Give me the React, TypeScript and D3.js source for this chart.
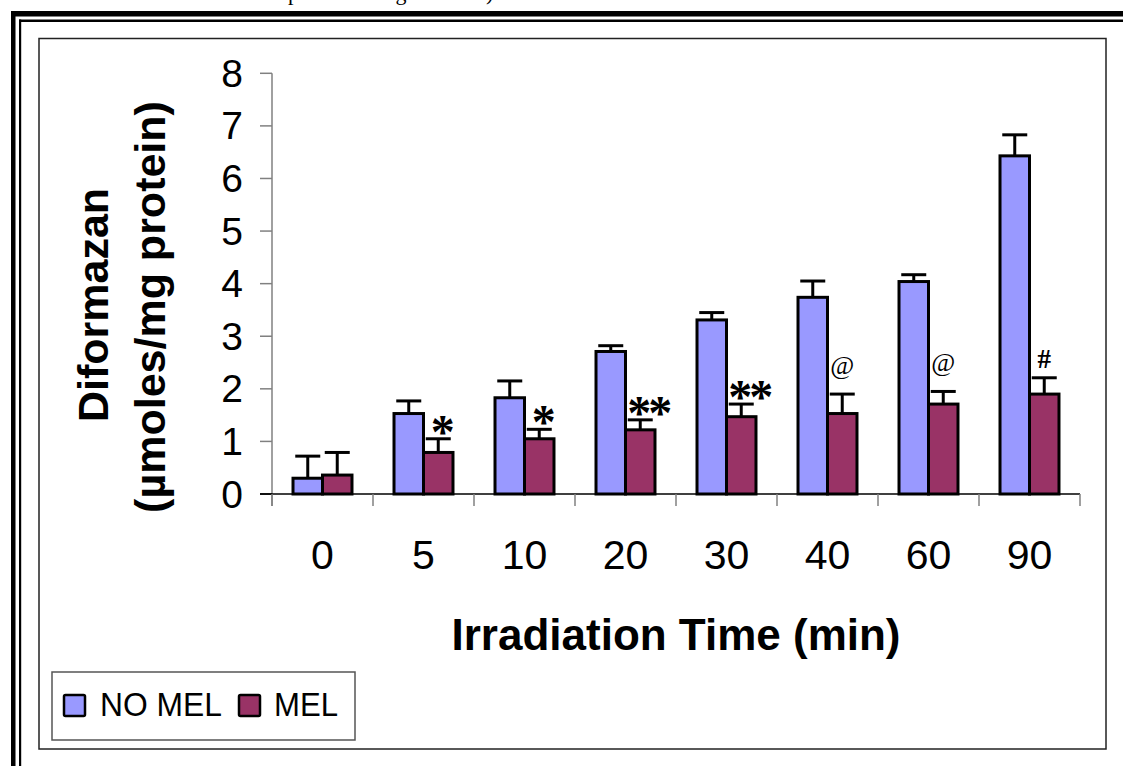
import React from "react";
import * as d3 from "d3";

const categories = ["0", "5", "10", "20", "30", "40", "60", "90"];
const seriesNames = ["NO MEL", "MEL"];
const noMel = [0.3, 1.53, 1.83, 2.71, 3.31, 3.74, 4.04, 6.43];
const noMelErr = [0.42, 0.24, 0.32, 0.11, 0.14, 0.31, 0.13, 0.4];
const mel = [0.36, 0.79, 1.05, 1.22, 1.47, 1.53, 1.71, 1.9];
const melErr = [0.43, 0.26, 0.18, 0.19, 0.24, 0.37, 0.24, 0.31];
const marks = ["", "*", "*", "**", "**", "@", "@", "#"];
const yTicks = [0, 1, 2, 3, 4, 5, 6, 7, 8];

const W = 1123;
const H = 766;
const colors = ["#9999FF", "#993366"];
const sans = "'Liberation Sans', Arial, sans-serif";
const serif = "'Liberation Serif', 'Times New Roman', serif";

export default function App() {
  const x = d3
    .scaleBand<string>()
    .domain(categories)
    .range([272, 1080])
    .paddingInner(0.416)
    .paddingOuter(0.208);
  const xs = d3.scaleBand<string>().domain(seriesNames).range([0, x.bandwidth()]);
  const y = d3.scaleLinear().domain([0, 8]).range([494, 73.3]);
  const step = x.step();
  const x0 = 272;

  const values = [noMel, mel];
  const errs = [noMelErr, melErr];

  return (
    <svg
      width={W}
      height={H}
      style={{ position: "absolute", left: 0, top: 0, background: "#fff" }}
    >
      <rect x={0} y={0} width={W} height={H} fill="#fff" />
      {/* cut-off caption text at top */}
      <text x={288} y={-0.5} fontFamily={serif} fontSize={22} fill="#000">
        protein in mg of tissue)
      </text>
      {/* outer page frame */}
      <rect x={11} y={11} width={W} height={5.5} fill="#000" />
      <rect x={11} y={11} width={4.5} height={H} fill="#000" />
      <rect x={19} y={19.5} width={W} height={2.5} fill="#000" />
      <rect x={19} y={19.5} width={2.2} height={H} fill="#000" />
      {/* chart area border */}
      <rect x={39} y={38.5} width={1067} height={710.5} fill="#fff" stroke="#222" strokeWidth={1.5} />

      {/* y axis */}
      <line x1={272} x2={272} y1={y(8)} y2={506} stroke="#808080" strokeWidth={1.5} />
      {yTicks.map((t) => (
        <g key={t}>
          <line x1={260} x2={272} y1={y(t)} y2={y(t)} stroke={t === 0 ? "#000" : "#808080"} strokeWidth={1.5} />
          <text
            x={243}
            y={y(t)}
            textAnchor="end"
            dominantBaseline="central"
            fontFamily={sans}
            fontSize={39}
            fill="#000"
          >
            {t}
          </text>
        </g>
      ))}

      {/* x axis */}
      <line x1={260} x2={1080} y1={494} y2={494} stroke="#000" strokeWidth={1.5} />
      {d3.range(categories.length + 1).map((i) => (
        <line key={i} x1={x0 + i * step} x2={x0 + i * step} y1={494} y2={506} stroke="#808080" strokeWidth={1.5} />
      ))}
      {categories.map((c) => (
        <text
          key={c}
          x={(x(c) as number) + x.bandwidth() / 2}
          y={569}
          textAnchor="middle"
          fontFamily={sans}
          fontSize={41}
          fill="#000"
        >
          {c}
        </text>
      ))}

      {/* bars */}
      {seriesNames.map((s, si) =>
        categories.map((c, ci) => {
          const bx = (x(c) as number) + (xs(s) as number);
          const bw = xs.bandwidth();
          const v = values[si][ci];
          const e = errs[si][ci];
          const cx = bx + bw / 2;
          return (
            <g key={s + c}>
              <line x1={cx} x2={cx} y1={y(v)} y2={y(v + e)} stroke="#000" strokeWidth={3} />
              <line x1={cx - 12.5} x2={cx + 12.5} y1={y(v + e)} y2={y(v + e)} stroke="#000" strokeWidth={3} />
              <rect x={bx} y={y(v)} width={bw} height={y(0) - y(v)} fill={colors[si]} stroke="#000" strokeWidth={3} />
            </g>
          );
        })
      )}

      {/* significance marks */}
      {categories.map((c, ci) => {
        const m = marks[ci];
        if (!m) return null;
        const cx = (x(c) as number) + (xs("MEL") as number) + xs.bandwidth() / 2;
        const top = y(mel[ci] + melErr[ci]);
        const isStar = m.includes("*");
        const fs = isStar ? 48 : m === "@" ? 26 : 27;
        const off = isStar ? (m.length === 2 ? 8 : 3) : 0;
        const base = isStar ? top + 9 : m === "@" ? top - 20 : top - 10;
        return (
          <text
            key={c}
            x={cx + off}
            y={base}
            textAnchor="middle"
            fontFamily={serif}
            fontWeight={m === "@" ? "normal" : "bold"}
            fontSize={fs}
            letterSpacing={isStar ? -3 : 0}
            fill="#000"
          >
            {m}
          </text>
        );
      })}

      {/* axis titles */}
      <text
        transform="translate(108,305) rotate(-90)"
        textAnchor="middle"
        fontFamily={sans}
        fontWeight="bold"
        fontSize={43}
        fill="#000"
      >
        Diformazan
      </text>
      <text
        transform="translate(165,307) rotate(-90)"
        textAnchor="middle"
        fontFamily={sans}
        fontWeight="bold"
        fontSize={43}
        fill="#000"
      >
        (µmoles/mg protein)
      </text>
      <text x={676} y={650} textAnchor="middle" fontFamily={sans} fontWeight="bold" fontSize={44} fill="#000">
        Irradiation Time (min)
      </text>

      {/* legend */}
      <rect x={52} y={672} width={303} height={68} fill="#fff" stroke="#555" strokeWidth={1.5} />
      {seriesNames.map((s, i) => {
        const sx = i === 0 ? 64 : 239;
        const tx = i === 0 ? 100 : 274;
        return (
          <g key={s}>
            <rect x={sx} y={695} width={21} height={21} fill={colors[i]} stroke="#000" strokeWidth={2.5} rx={1.5} />
            <text x={tx} y={716} fontFamily={sans} fontSize={34} fill="#000" textLength={i === 0 ? 122 : 64} lengthAdjust="spacingAndGlyphs">
              {s}
            </text>
          </g>
        );
      })}
    </svg>
  );
}
